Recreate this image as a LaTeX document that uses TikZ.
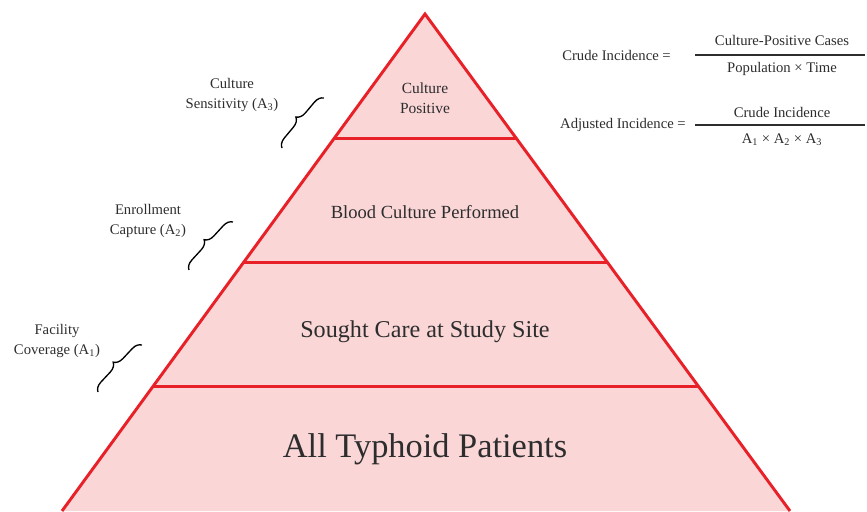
\documentclass[tikz,border=0pt]{standalone}
\usepackage{fontspec}
\setmainfont{Liberation Serif}
\usetikzlibrary{calc,decorations.pathreplacing,positioning}
\definecolor{tierred}{RGB}{232,32,40}
\definecolor{tierfill}{RGB}{250,214,215}
\definecolor{inkgray}{RGB}{45,45,45}
\tikzset{
  tier/.style={draw=tierred, line width=2.2pt, line join=miter},
  level/.style={text=inkgray, align=center, inner sep=0pt},
  brace/.style={decorate, decoration={brace, amplitude=7pt}, line width=1pt, black},
  note/.style={text=inkgray, align=center, inner sep=0pt, font=\fontsize{11}{14.5}\selectfont},
  fracbar/.style={draw=inkgray, line width=0.9pt}
}
\newcommand{\Asub}[1]{A\textsubscript{#1}}
\begin{document}
\begin{tikzpicture}[x=0.75pt,y=-0.75pt]
  \useasboundingbox (0,0) rectangle (867,511);
  % pyramid
  \coordinate (apex) at (425,14);
  \coordinate (bl) at (62,511);
  \coordinate (br) at (790,511);
  \fill[tierfill] (apex)--(bl)--(br)--cycle;
  \draw[tier] (bl)--(apex)--(br);
  \foreach \t in {0.25,0.5,0.75}{\draw[tier] ($(apex)!\t!(bl)$)--($(apex)!\t!(br)$);}
  % tier texts
  \node[level, font=\fontsize{11.6}{15}\selectfont] (positive) at (425,98) {Culture\\Positive};
  \node[level, font=\fontsize{13.9}{15}\selectfont] (performed) at (425,212) {Blood Culture Performed};
  \node[level, font=\fontsize{18.1}{20}\selectfont] (sought) at (425,332) {Sought Care at Study Site};
  \node[level, font=\fontsize{25.8}{28}\selectfont] (patients) at (425,449) {All Typhoid Patients};
  % adjustment factors
  \node[note] (sens) at (232,95) {Culture\\Sensitivity (\Asub{3})};
  \node[note] (enrol) at (148,221) {Enrollment\\Capture (\Asub{2})};
  \node[note] (cover) at (57,341) {Facility\\Coverage (\Asub{1})};
  \coordinate (sensA) at (282,148); \coordinate (sensB) at (324,98);
  \coordinate (enrolA) at (189,270); \coordinate (enrolB) at (233,222);
  \coordinate (coverA) at (98,392); \coordinate (coverB) at (142,345);
  \draw[brace] (sensA)--(sensB);
  \draw[brace] (enrolA)--(enrolB);
  \draw[brace] (coverA)--(coverB);
  % formulas
  \node[note, anchor=east] (crude) at (671,55) {Crude Incidence =};
  \coordinate (crudeL) at (695,55); \coordinate (crudeR) at (865,55);
  \draw[fracbar] (crudeL)--(crudeR);
  \node[note] (cases) at (782,40) {Culture-Positive Cases};
  \node[note] (poptime) at (782,69) {Population × Time};
  \node[note, anchor=east] (adjusted) at (686,125) {Adjusted Incidence =};
  \coordinate (adjL) at (695,125); \coordinate (adjR) at (865,125);
  \draw[fracbar] (adjL)--(adjR);
  \node[note] (crudenum) at (782,112) {Crude Incidence};
  \node[note] (factors) at (782,140) {\Asub{1} × \Asub{2} × \Asub{3}};
\end{tikzpicture}
\end{document}
